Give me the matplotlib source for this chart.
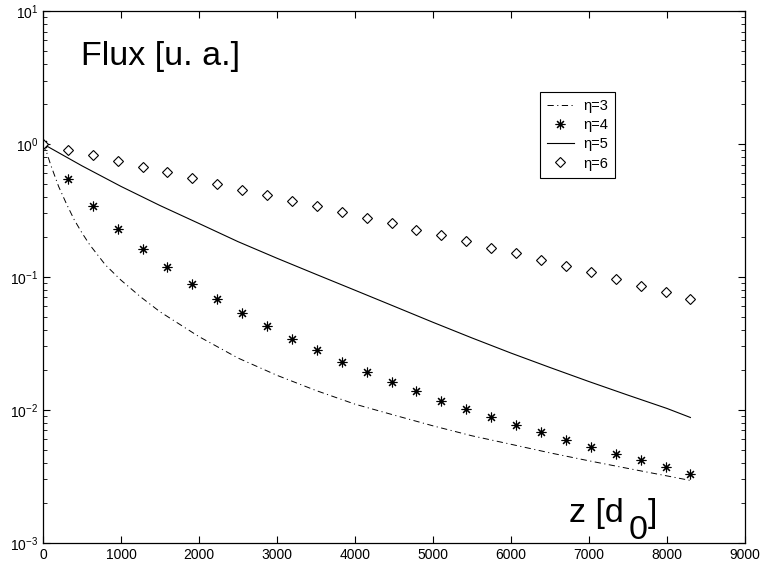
import math
import matplotlib
matplotlib.use("Agg")
import matplotlib.pyplot as plt
from matplotlib.ticker import FixedLocator, LogLocator, NullFormatter, FuncFormatter

plt.rcParams['font.family'] = ['Liberation Sans', 'DejaVu Sans']
plt.rcParams['mathtext.fontset'] = 'custom'
plt.rcParams['mathtext.rm'] = 'Liberation Sans'
plt.rcParams['lines.scale_dashes'] = False

# marker positions (z) for eta=4 and eta=6
z_pts = [0, 319, 638, 958, 1277, 1596, 1915, 2235, 2554, 2873, 3192, 3512, 3831, 4150,
         4469, 4788, 5108, 5427, 5746, 6065, 6385, 6704, 7023, 7342, 7662, 7981, 8300]
flux_eta4 = [1.0, 0.548, 0.341, 0.231, 0.163, 0.118, 0.0889, 0.0680, 0.0531, 0.0424,
             0.0341, 0.0280, 0.0230, 0.0193, 0.0162, 0.0138, 0.0117, 0.0101, 0.0088,
             0.00766, 0.00675, 0.00594, 0.00524, 0.00467, 0.00416, 0.00371, 0.0033]
flux_eta6 = [1.0, 0.905, 0.820, 0.739, 0.670, 0.611, 0.551, 0.497, 0.451, 0.411, 0.372,
             0.340, 0.308, 0.279, 0.252, 0.227, 0.205, 0.185, 0.166, 0.150, 0.133, 0.120,
             0.108, 0.0961, 0.0856, 0.0764, 0.0680]

# curves
z_eta3 = [0, 50, 100, 200, 300, 400, 500, 600, 800, 1000, 1250, 1500, 2000, 2500, 3000,
          3500, 4000, 4500, 5000, 5500, 6000, 6500, 7000, 7500, 8000, 8300]
flux_eta3 = [1.0, 0.851, 0.692, 0.479, 0.355, 0.269, 0.214, 0.174, 0.123, 0.0944, 0.0708,
             0.0546, 0.0355, 0.0245, 0.01816, 0.01396, 0.01102, 0.00912, 0.00757, 0.00637,
             0.0055, 0.00474, 0.00413, 0.00362, 0.00318, 0.00294]
z_eta5 = [0, 500, 1000, 1500, 2000, 2500, 3000, 3500, 4000, 4500, 5000, 5500, 6000, 6500,
          7000, 7500, 8000, 8300]
flux_eta5 = [1.0, 0.684, 0.479, 0.344, 0.252, 0.184, 0.138, 0.1045, 0.0793, 0.0601, 0.0455,
             0.0347, 0.0267, 0.0208, 0.0163, 0.01288, 0.01023, 0.00875]

x_ticks = [0, 1000, 2000, 3000, 4000, 5000, 6000, 7000, 8000, 9000]

fig = plt.figure(figsize=(7.62, 5.67), dpi=100)
ax = fig.add_axes([43 / 762, 1 - 542.7 / 567, 702 / 762, 531.7 / 567])

ax.plot(z_eta3, flux_eta3, color='black', lw=0.7, linestyle=(0, (4.5, 2.5, 0.8, 2.5)), label='η=3')
ax.plot(z_pts, flux_eta4, linestyle='none', marker=(8, 2, 0), markersize=7, mew=0.8,
        color='black', label='η=4')
ax.plot(z_eta5, flux_eta5, color='black', lw=0.8, label='η=5')
ax.plot(z_pts, flux_eta6, linestyle='none', marker='D', markersize=5.5, mew=0.8,
        mfc='white', mec='black', label='η=6')

ax.set_yscale('log')
ax.set_xlim(0, 9000)
ax.set_ylim(1e-3, 1e1)
ax.xaxis.set_major_locator(FixedLocator(x_ticks))
ax.yaxis.set_major_locator(LogLocator(base=10, numticks=10))
ax.yaxis.set_minor_locator(LogLocator(base=10, subs=range(2, 10), numticks=10))
ax.yaxis.set_minor_formatter(NullFormatter())
ax.yaxis.set_major_formatter(FuncFormatter(lambda v, p: r'$10^{%d}$' % round(math.log10(v))))
ax.tick_params(which='both', direction='in', top=True, right=True, labelsize=10)
ax.tick_params(which='major', length=5, width=0.8)
ax.tick_params(which='minor', length=3, width=0.6)
for s in ax.spines.values():
    s.set_linewidth(0.9)

# big annotations
ax.text(0.054, 0.898, 'Flux [u. a.]', transform=ax.transAxes, fontsize=24.5, va='baseline')
ax.text(0.7493, 0.0395, 'z [d', transform=ax.transAxes, fontsize=24.5, va='baseline')
ax.text(0.8348, 0.007, '0', transform=ax.transAxes, fontsize=24.5, va='baseline')
ax.text(0.8618, 0.0395, ']', transform=ax.transAxes, fontsize=24.5, va='baseline')

leg = ax.legend(loc='upper left', bbox_to_anchor=(540 / 762, 1 - 92 / 567),
                bbox_transform=fig.transFigure, borderaxespad=0, fontsize=10.5,
                fancybox=False, framealpha=1, edgecolor='black', numpoints=1,
                handlelength=1.8, handletextpad=0.65, labelspacing=0.35, borderpad=0.5)
leg.get_frame().set_linewidth(0.8)

fig.savefig('out.png', dpi=100)
